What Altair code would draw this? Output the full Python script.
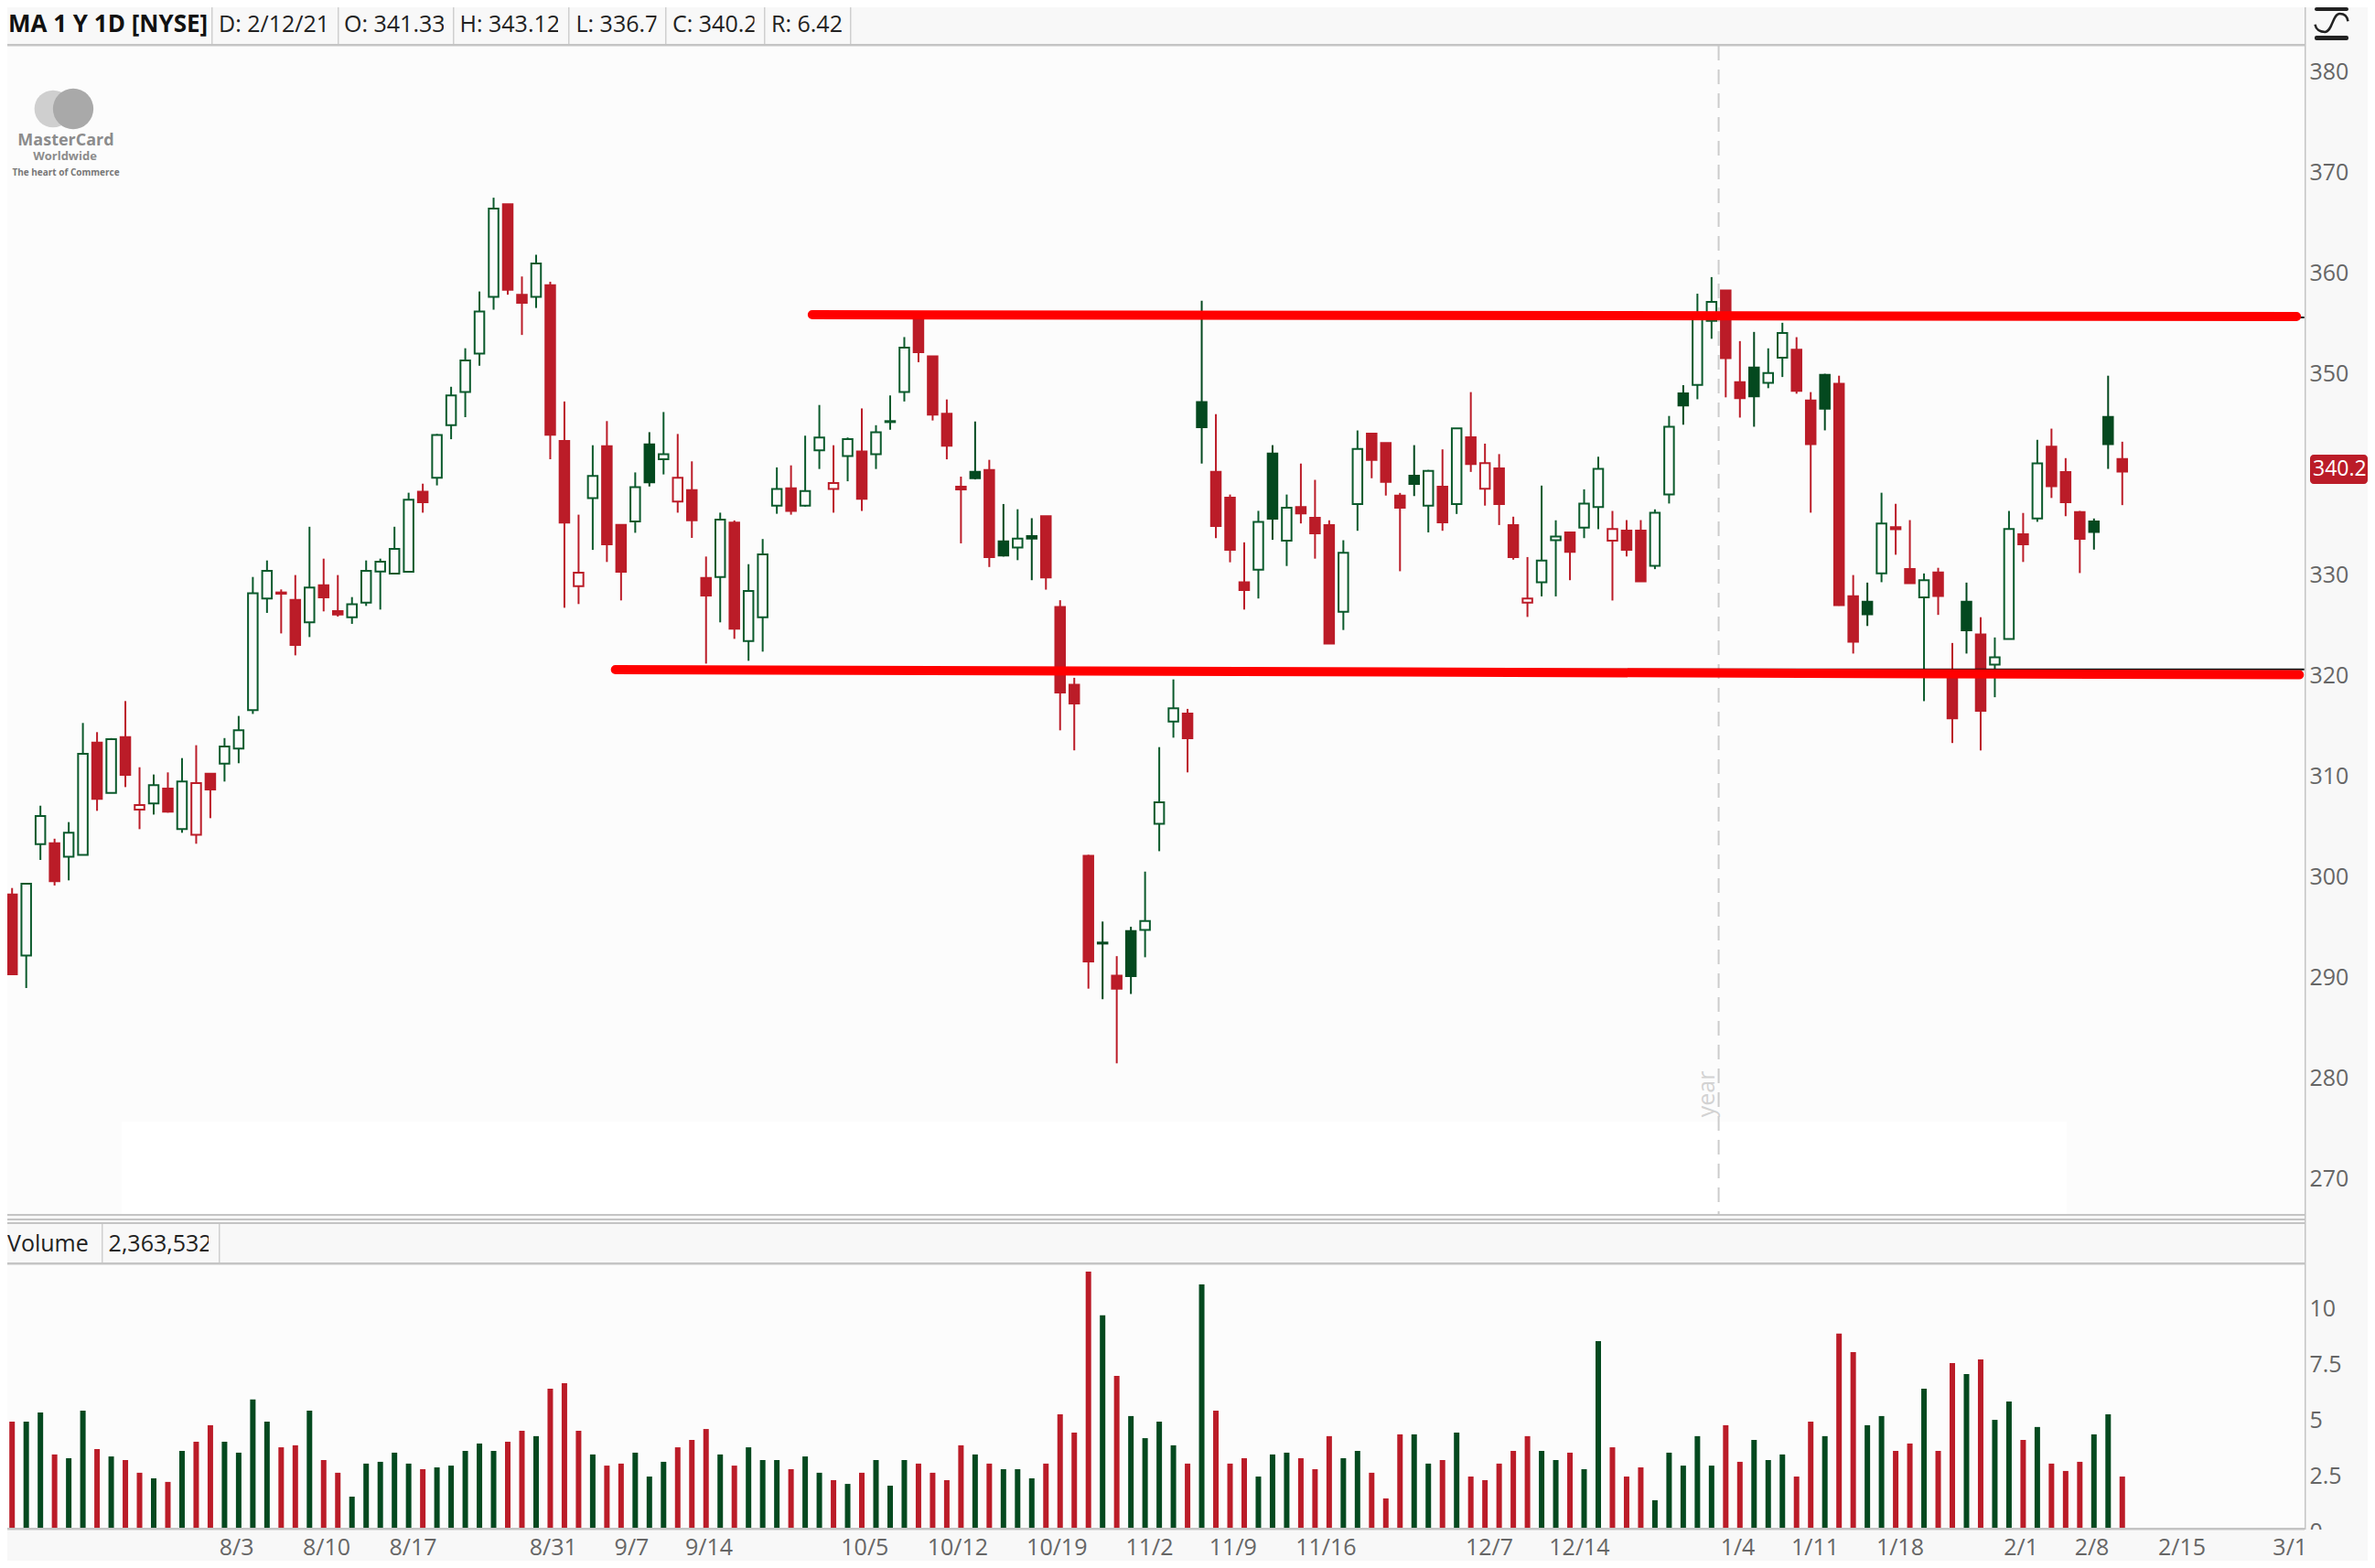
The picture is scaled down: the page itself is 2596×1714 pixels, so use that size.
import altair as alt
import pandas as pd

FONT = "Open Sans"

candle_high = [
    298.9, 299.33, 307.08, 303.8, 305.45, 315.3, 314.39, 313.8, 317.48, 310.9,
    310.18, 310.39, 311.81, 313.09, 310.33, 313.8, 316.0, 329.81, 331.45, 328.57,
    330.0, 334.8, 331.63, 330.0, 327.81, 331.45, 331.63, 334.8, 338.18, 339.08,
    344.02, 348.71, 352.54, 358.18, 367.5, 366.84, 359.67, 361.83, 359.15, 347.25,
    336.0, 342.9, 345.3, 335.0, 340.2, 344.2, 346.2, 344.02, 341.3, 331.84,
    336.2, 335.43, 331.08, 333.58, 340.7, 340.9, 343.85, 346.9, 342.9, 343.67,
    346.56, 344.89, 347.85, 353.65, 355.6, 351.73, 347.45, 339.78, 345.26, 341.45,
    337.06, 336.54, 335.65, 335.86, 327.5, 319.79, 302.2, 295.57, 292.13, 295.05,
    300.53, 312.9, 319.63, 316.7, 357.26, 345.99, 338.0, 333.25, 336.38, 342.91,
    338.0, 341.08, 339.46, 335.44, 333.46, 344.37, 344.06, 343.12, 338.16, 342.91,
    340.45, 342.49, 344.58, 348.18, 343.06, 342.02, 335.8, 331.79, 338.89, 335.44,
    334.24, 338.52, 341.76, 336.37, 335.46, 335.46, 336.53, 345.81, 348.87, 357.96,
    359.61, 358.28, 353.25, 354.16, 352.53, 355.07, 353.64, 348.18, 350.0, 349.81,
    330.0, 329.25, 338.18, 337.08, 335.46, 330.16, 330.72, 323.25, 329.25, 325.81,
    323.8, 336.37, 336.17, 343.44, 344.55, 341.62, 336.37, 335.62, 349.81, 343.25,
]
body_top = [
    298.27, 299.33, 306.05, 303.36, 304.39, 312.24, 313.36, 313.69, 313.9, 307.15,
    309.12, 308.78, 309.48, 309.33, 310.27, 312.96, 314.57, 328.2, 330.42, 328.27,
    327.54, 328.75, 328.99, 326.42, 327.1, 330.42, 331.33, 332.6, 337.48, 338.28,
    343.92, 347.85, 351.32, 356.19, 366.42, 366.84, 357.86, 360.96, 358.8, 343.33,
    330.24, 339.85, 342.8, 334.98, 338.73, 342.98, 342.0, 339.67, 338.45, 329.72,
    335.5, 335.22, 328.42, 332.05, 338.56, 338.63, 338.35, 343.67, 339.15, 343.5,
    342.28, 344.2, 345.3, 352.61, 355.4, 351.73, 346.04, 338.78, 340.25, 340.45,
    333.36, 333.62, 333.88, 335.86, 326.83, 319.11, 302.1, 293.48, 290.2, 294.63,
    295.62, 307.42, 316.76, 316.24, 347.19, 340.25, 337.69, 329.29, 335.29, 342.07,
    336.7, 336.75, 335.7, 334.97, 332.21, 342.54, 344.06, 343.12, 337.9, 339.88,
    340.35, 338.79, 344.58, 343.69, 341.13, 340.61, 334.97, 327.67, 331.43, 333.83,
    334.24, 337.1, 340.56, 334.58, 334.42, 334.42, 336.2, 344.74, 348.05, 355.6,
    357.14, 358.28, 349.16, 350.62, 350.07, 354.06, 352.4, 347.34, 349.9, 349.0,
    327.89, 327.34, 335.13, 334.77, 330.59, 329.48, 330.26, 320.0, 327.34, 324.09,
    321.82, 334.58, 334.06, 341.1, 342.76, 340.23, 336.27, 335.33, 345.72, 341.53,
]
body_bottom = [
    290.33, 292.2, 303.27, 299.57, 302.0, 302.18, 307.75, 308.36, 310.15, 306.69,
    307.3, 306.48, 304.75, 304.18, 308.69, 311.27, 312.75, 316.57, 327.66, 328.15,
    323.05, 325.3, 327.78, 326.08, 325.8, 327.27, 330.36, 330.15, 330.33, 337.24,
    339.67, 344.89, 348.2, 352.02, 357.65, 358.35, 357.06, 357.65, 343.95, 335.22,
    328.9, 337.65, 333.06, 330.33, 335.32, 339.22, 341.5, 337.3, 335.43, 327.96,
    329.81, 324.66, 323.45, 325.81, 336.89, 336.37, 336.89, 342.39, 338.56, 341.83,
    337.58, 342.0, 345.2, 348.2, 352.15, 345.93, 342.86, 338.5, 339.62, 331.79,
    331.95, 332.73, 333.62, 329.76, 318.33, 317.23, 291.6, 293.38, 288.9, 290.14,
    294.73, 305.28, 315.45, 313.78, 344.68, 334.87, 332.52, 328.5, 330.54, 335.6,
    333.41, 336.12, 334.14, 323.18, 326.36, 337.06, 341.45, 339.25, 336.7, 339.05,
    336.9, 335.24, 337.06, 341.03, 338.58, 337.06, 331.79, 327.25, 329.28, 333.46,
    332.31, 334.71, 336.75, 333.41, 332.5, 329.38, 330.91, 338.0, 346.85, 348.9,
    355.26, 351.56, 347.57, 347.76, 349.09, 351.59, 348.31, 343.02, 346.53, 327.0,
    323.38, 326.1, 330.16, 334.55, 329.19, 327.79, 327.92, 315.75, 324.52, 316.5,
    321.1, 323.64, 333.05, 335.62, 338.83, 337.24, 333.6, 334.29, 343.02, 340.29,
]
candle_low = [
    290.33, 288.96, 301.69, 299.15, 299.66, 302.18, 306.57, 308.36, 308.93, 304.75,
    306.2, 306.39, 304.39, 303.3, 305.84, 309.48, 311.3, 316.2, 326.24, 324.2,
    322.02, 323.84, 326.39, 325.87, 325.15, 326.93, 326.57, 330.15, 330.33, 336.2,
    338.91, 343.5, 345.69, 350.8, 356.37, 357.86, 353.86, 356.54, 341.51, 326.75,
    327.12, 332.5, 331.3, 327.48, 334.2, 338.8, 340.0, 336.2, 333.69, 321.2,
    325.3, 323.66, 321.48, 322.39, 336.09, 336.0, 336.8, 340.54, 336.2, 339.32,
    336.37, 340.54, 344.44, 347.25, 351.15, 345.36, 341.5, 333.15, 339.5, 330.8,
    331.84, 331.48, 329.49, 328.55, 314.57, 312.58, 288.9, 287.85, 281.48, 288.37,
    292.02, 302.56, 313.84, 310.39, 341.08, 333.67, 331.27, 326.57, 327.67, 333.5,
    330.9, 335.13, 331.63, 323.18, 324.54, 334.4, 339.62, 337.9, 330.38, 337.85,
    334.24, 334.4, 336.07, 340.25, 336.9, 334.97, 331.53, 325.84, 327.88, 327.88,
    329.49, 333.67, 334.56, 327.47, 331.85, 329.38, 330.59, 337.11, 344.94, 347.47,
    353.48, 347.66, 345.65, 344.74, 348.57, 349.68, 348.02, 336.2, 344.38, 326.95,
    322.2, 324.94, 329.29, 332.02, 329.19, 317.47, 326.04, 313.31, 322.2, 312.57,
    317.86, 323.64, 331.3, 335.29, 337.66, 335.85, 330.2, 332.53, 340.55, 336.95,
]
# R red filled, r red hollow, G green filled, g green hollow
candle_kind = (
    "RggRggRgRr" "gRgrRggggR" "RgRRgggggR" "gggggRRgRR" "rgRRgGgrRR"
    "gRgggRggrg" "RgggRRRRGR" "GgGRRRRGRG" "gggRGRRRgG" "gRRRggRRRG"
    "gRgRrRRrgg" "RggrRRggGg" "gRRGggRRGR" "RGgRRgRRGR" "ggRgRRRGGR"
)
volume_millions = [
    4.93, 4.93, 5.34, 3.46, 3.29, 5.42, 3.70, 3.37, 3.21, 2.64,
    2.39, 2.23, 3.62, 4.03, 4.77, 4.03, 3.54, 5.92, 4.93, 3.78,
    3.87, 5.42, 3.21, 2.64, 1.57, 3.05, 3.13, 3.54, 3.05, 2.80,
    2.88, 2.96, 3.62, 3.95, 3.62, 4.03, 4.52, 4.28, 6.41, 6.65,
    4.52, 3.46, 2.96, 3.05, 3.54, 2.47, 3.13, 3.78, 4.11, 4.60,
    3.46, 2.96, 3.78, 3.21, 3.21, 2.80, 3.37, 2.64, 2.31, 2.14,
    2.64, 3.21, 2.06, 3.21, 3.05, 2.64, 2.31, 3.87, 3.46, 3.05,
    2.80, 2.80, 2.39, 3.05, 5.26, 4.44, 11.65, 9.69, 6.98, 5.18,
    4.19, 4.93, 3.87, 3.05, 11.08, 5.42, 3.05, 3.29, 2.47, 3.46,
    3.54, 3.29, 2.80, 4.28, 3.29, 3.62, 2.64, 1.49, 4.36, 4.36,
    3.05, 3.21, 4.44, 2.47, 2.31, 3.05, 3.62, 4.28, 3.62, 3.21,
    3.54, 2.80, 8.54, 3.78, 2.47, 2.88, 1.41, 3.54, 2.96, 4.28,
    2.96, 4.77, 3.13, 4.11, 3.21, 3.46, 2.47, 4.93, 4.28, 8.87,
    8.05, 4.77, 5.18, 3.62, 3.95, 6.41, 3.62, 7.55, 7.06, 7.72,
    5.01, 5.83, 4.11, 4.69, 3.05, 2.72, 3.13, 4.36, 5.26, 2.47,
]
date_positions = [14.6, 20.5, 26.6, 36.5, 42.5, 47.5, 58.5, 64.6, 71.6, 78.6, 84.5,
                  90.6, 102.6, 108.5, 120.6, 125.6, 131.6, 140.6, 145.6, 151.5, 159.6]
date_labels = ["8/3", "8/10", "8/17", "8/31", "9/7", "9/14", "10/5", "10/12", "10/19",
               "11/2", "11/9", "11/16", "12/7", "12/14", "1/4", "1/11", "1/18", "2/1",
               "2/8", "2/15", "3/1"]
price_ticks = [270, 280, 290, 300, 310, 320, 330, 350, 360, 370, 380]
volume_ticks = [0, 2.5, 5, 7.5, 10]
resistance_x, resistance_y = [56.5, 161.3], [355.87, 355.69]
support_x, support_y = [42.6, 161.5], [320.6, 320.09]

RED, GREEN, BG, PLOT, LINE = "#bb1c28", "#04491f", "#f8f8f8", "#fcfcfc", "#c4c4c4"
HOLLOW_GREEN = "#0b5a2c"

df = pd.DataFrame({
    "i": range(150), "high": candle_high, "low": candle_low,
    "top": body_top, "bottom": body_bottom,
    "volume": volume_millions, "kind": list(candle_kind),
})
df["line"] = df["kind"].map({"R": RED, "r": RED, "G": GREEN, "g": HOLLOW_GREEN})
df["fill"] = df["kind"].map({"R": RED, "r": PLOT, "G": GREEN, "g": PLOT})
df["bar"] = df["kind"].map({"R": RED, "r": RED, "G": GREEN, "g": GREEN})

label_map = ",".join(f"'{p}':'{t}'" for p, t in zip(date_positions, date_labels))
x_axis = alt.Axis(values=date_positions, labelExpr="{" + label_map + "}[datum.value]",
                  labelAlign="left", labelBaseline="middle", labelPadding=21,
                  labelFontSize=25, labelFont=FONT, labelColor="#666666", labelOverlap=False,
                  labelFlush=False, ticks=False, domain=False, grid=False, title=None)
x_scale = alt.Scale(domain=[-0.336, 161.87], nice=False, zero=False, padding=0)
X = lambda f: alt.X(f, scale=x_scale, axis=x_axis)

p_scale = alt.Scale(domain=[266.5, 382.6], range=[1319.1, 42.0], nice=False, zero=False)
p_axis = alt.Axis(orient="right", values=price_ticks, format="d", labelFontSize=25, labelFont=FONT,
                  labelColor="#666666", labelPadding=5, labelOverlap=False, labelFlush=False,
                  ticks=False, domain=False, grid=False, title=None)
v_scale = alt.Scale(domain=[0, 12], range=[1666.3, 1373.5], nice=False, zero=True)
v_axis = alt.Axis(orient="right", values=volume_ticks, format="~g", labelFontSize=25, labelFont=FONT,
                  labelColor="#666666", labelPadding=5, labelOverlap=False, labelFlush=False,
                  ticks=False, domain=False, grid=False, title=None)
one = pd.DataFrame({"a": [0]})


def rect(x0, y0, x1, y1, color, **kw):
    return alt.Chart(one).mark_rect(color=color, **kw).encode(
        x=alt.value(x0 - 8), x2=alt.value(x1 - 8), y=alt.value(y0 - 8), y2=alt.value(y1 - 8))


def label(s, x, y, size=25, color="#222222", align="left", **kw):
    return alt.Chart(pd.DataFrame({"t": [s]})).mark_text(
        font=FONT, fontSize=size, color=color, align=align, baseline="middle", **kw
    ).encode(x=alt.value(x - 8), y=alt.value(y - 8), text="t:N")


def disc(cx, cy, size, color, **kw):
    return alt.Chart(one).mark_point(filled=True, size=size, color=color, opacity=1, **kw).encode(
        x=alt.value(cx - 8), y=alt.value(cy - 8))


back = [
    rect(8, 50, 2519, 1327, PLOT),
    rect(133, 1226, 2259, 1327, "#ffffff"),
    rect(8, 1382, 2519, 1670, PLOT),
]

# logo
logo = [
    disc(58, 119, 1660, "#cfcfcf"),
    disc(80, 119, 1960, "#a9a9a9"),
    label("MasterCard", 72, 154, size=18, color="#8c8c8c", align="center", fontWeight="bold"),
    label("Worldwide", 71, 171, size=13, color="#8c8c8c", align="center", fontWeight="bold"),
    label("The heart of Commerce", 72, 189, size=10, color="#777777", align="center", fontWeight="bold"),
]

wicks = alt.Chart(df).mark_rule(strokeWidth=2).encode(
    x=X("i:Q"), y=alt.Y("high:Q", scale=p_scale, axis=p_axis), y2="low:Q",
    color=alt.Color("line:N", scale=None))
bodies = alt.Chart(df).mark_bar(size=10.5, strokeWidth=2).encode(
    x=X("i:Q"), y=alt.Y("top:Q", scale=p_scale, axis=p_axis), y2="bottom:Q",
    fill=alt.Fill("fill:N", scale=None), stroke=alt.Stroke("line:N", scale=None))


def level(xs, ys, color, width, cap="round"):
    d = pd.DataFrame({"i": xs, "p": ys})
    return alt.Chart(d).mark_line(color=color, strokeWidth=width, strokeCap=cap).encode(
        x=X("i:Q"), y=alt.Y("p:Q", scale=p_scale, axis=p_axis))


year_rule = alt.Chart(pd.DataFrame({"i": [120.5]})).mark_rule(
    color="#cccccc", strokeWidth=2, strokeDash=[16, 10]
).encode(x=X("i:Q"), y=alt.value(42), y2=alt.value(1319))

price = alt.layer(
    year_rule, wicks, bodies,
    level([42.6, 161.85], [320.62, 320.62], "#111111", 2, "butt"),
    level([56.5, 161.85], [355.6, 355.6], "#111111", 2, "butt"),
    level(resistance_x, resistance_y, "#ff0000", 10),
    level(support_x, support_y, "#ff0000", 10),
)

volume = alt.Chart(df).mark_bar(size=6, clip=True).encode(
    x=X("i:Q"), y=alt.Y("volume:Q", scale=v_scale, axis=v_axis),
    color=alt.Color("bar:N", scale=None))

icon_curve = alt.Chart(one).mark_point(
    shape=("M-1,0.1 C-0.95,0.4 -0.7,0.55 -0.4,0.55 C0.05,0.55 0.05,-0.55 0.5,-0.55 "
           "C0.75,-0.55 0.95,-0.4 1,-0.1 C0.95,-0.4 0.75,-0.55 0.5,-0.55 "
           "C0.05,-0.55 0.05,0.55 -0.4,0.55 C-0.7,0.55 -0.95,0.4 -1,0.1"),
    size=1296, filled=False, stroke="#222222", strokeWidth=2.5, opacity=1,
).encode(x=alt.value(2548.5 - 8), y=alt.value(25 - 8))

front = [
    label("year", 1866, 1196, size=25, color="#d2d2d2", align="center", angle=270),
    # top header
    label("MA 1 Y 1D [NYSE]", 9, 27, size=26, color="#111111", fontWeight="bold"),
    label("D: 2/12/21", 239, 27),
    label("O: 341.33", 376, 27), rect(485, 10, 495, 46, BG),
    label("H: 343.12", 502.5, 27), rect(610, 10, 621, 46, BG),
    label("L: 336.70", 629.5, 27), rect(717.5, 10, 734, 46, BG),
    label("C: 340.20", 735, 27), rect(824.6, 10, 842, 46, BG),
    label("R: 6.42", 843, 27),
    # volume header
    label("Volume", 8, 1360),
    label("2,363,532", 118.6, 1360), rect(228, 1340, 239, 1378, BG),
    # price tag
    rect(2525, 497, 2588, 529, RED, cornerRadius=4),
    label("340.2", 2528, 513, size=23, color="#ffffff"),
    # cover the lower half of the volume zero
    rect(2521, 1672, 2588, 1706, BG),
    # top right icon
    rect(2530, 8, 2567, 12, "#222222", cornerRadius=2),
    rect(2530, 39, 2567, 44, "#222222", cornerRadius=2),
    icon_curve,
]
for x in (231, 369, 495, 621, 727, 835, 929):
    front.append(rect(x, 8, x + 1.5, 48, "#cfcfcf"))
for x in (111, 239):
    front.append(rect(x, 1338, x + 1.5, 1380, "#cfcfcf"))
for y0, y1 in ((48, 50.5), (1327, 1329), (1332, 1334), (1336, 1338), (1380, 1382.5), (1670, 1672.5)):
    front.append(rect(8, y0, 2519, y1, LINE))
front.append(rect(2519, 8, 2520.5, 1672, LINE))

chart = alt.layer(
    *back, *logo, price, volume, *front
).resolve_scale(y="independent").resolve_axis(y="independent").properties(
    width=2511, height=1662, background=BG,
    autosize=alt.AutoSizeParams(type="none"),
    padding={"left": 0, "top": 0, "right": 69, "bottom": 36},
).configure_view(stroke=None)

chart.save("out.html", embed_options={"renderer": "svg", "actions": False})
